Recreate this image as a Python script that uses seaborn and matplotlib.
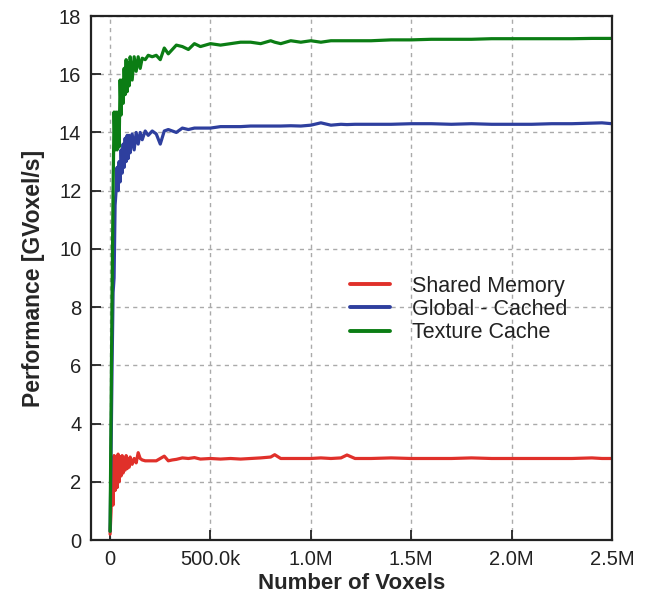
#!/usr/bin/env python3
"""Performance vs. number of voxels for three memory access strategies."""

import pandas as pd
import matplotlib
matplotlib.use("Agg")
import matplotlib.pyplot as plt
from matplotlib.ticker import FixedLocator, FixedFormatter
import seaborn as sns

# number of voxels, in thousands
voxels_k = [0, 5, 10, 15, 20, 25, 30, 35, 40, 45, 50, 55, 60, 65, 70, 75, 80, 85, 90, 95,
            100, 110, 120, 130, 140, 150, 160, 175, 190, 210, 230, 250, 270, 290, 310, 330,
            360, 390, 420, 450, 500, 550, 600, 650, 700, 750, 800, 820, 850, 900, 950,
            1000, 1050, 1100, 1150, 1180, 1220, 1300, 1400, 1500, 1600, 1700, 1800, 1900,
            2000, 2100, 2200, 2300, 2400, 2450, 2500]

shared_memory = [0.2, 1.0, 2.8, 1.2, 2.9, 1.7, 2.85, 1.8, 2.95, 2.0, 2.85, 2.2, 2.9, 2.3, 2.8,
                 2.4, 2.9, 2.45, 2.8, 2.5, 2.85, 2.6, 2.8, 2.65, 3.0, 2.8, 2.75, 2.72, 2.72,
                 2.72, 2.72, 2.8, 2.88, 2.72, 2.75, 2.77, 2.82, 2.8, 2.83, 2.78, 2.8, 2.78,
                 2.8, 2.78, 2.8, 2.82, 2.85, 2.93, 2.8, 2.8, 2.8, 2.8, 2.82, 2.8, 2.82, 2.92,
                 2.8, 2.8, 2.82, 2.8, 2.8, 2.8, 2.82, 2.8, 2.8, 2.8, 2.8, 2.8, 2.82, 2.8, 2.8]

global_cached = [0.3, 3.0, 6.0, 8.5, 9.0, 11.5, 12.0, 12.8, 12.0, 13.0, 12.3, 13.4, 12.6, 13.6,
                 12.8, 13.8, 13.0, 13.9, 13.1, 13.9, 13.3, 13.95, 13.4, 14.0, 13.6, 14.0,
                 13.75, 14.05, 13.9, 14.05, 13.95, 13.6, 14.05, 14.1, 14.05, 14.0, 14.15,
                 14.1, 14.15, 14.15, 14.15, 14.2, 14.2, 14.2, 14.22, 14.22, 14.22, 14.22,
                 14.22, 14.23, 14.22, 14.25, 14.33, 14.25, 14.28, 14.27, 14.28, 14.28, 14.28,
                 14.3, 14.3, 14.28, 14.3, 14.28, 14.28, 14.28, 14.3, 14.3, 14.32, 14.33, 14.3]

texture_cache = [0.3, 4.5, 8.5, 12.0, 14.7, 13.4, 14.7, 13.4, 14.7, 13.5, 15.8, 14.6, 15.8,
                 15.0, 16.2, 15.3, 16.5, 15.4, 16.4, 15.6, 16.6, 15.8, 16.6, 16.1, 16.6, 16.2,
                 16.55, 16.5, 16.65, 16.6, 16.65, 16.5, 16.9, 16.7, 16.85, 17.0, 16.95, 16.85,
                 17.05, 16.95, 17.05, 17.0, 17.05, 17.1, 17.1, 17.05, 17.15, 17.1, 17.05,
                 17.15, 17.1, 17.15, 17.1, 17.15, 17.15, 17.15, 17.15, 17.15, 17.18, 17.18,
                 17.2, 17.2, 17.2, 17.22, 17.22, 17.22, 17.22, 17.22, 17.23, 17.23, 17.23]

series_names = ["Shared Memory", "Global - Cached", "Texture Cache"]
series_colors = ["#e0302a", "#2e3f9e", "#0b7d14"]

x_ticks = [0, 500e3, 1.0e6, 1.5e6, 2.0e6, 2.5e6]
x_tick_labels = ["0", "500.0k", "1.0M", "1.5M", "2.0M", "2.5M"]
y_ticks = [0, 2, 4, 6, 8, 10, 12, 14, 16, 18]


def main():
    frames = []
    for name, values in zip(series_names, [shared_memory, global_cached, texture_cache]):
        frames.append(pd.DataFrame({
            "voxels": [v * 1000 for v in voxels_k],
            "perf": values,
            "kind": name,
        }))
    df = pd.concat(frames, ignore_index=True)

    sns.set_style("ticks")
    plt.rcParams["font.family"] = ["Liberation Sans", "DejaVu Sans"]

    fig, ax = plt.subplots(figsize=(6.46, 5.98), dpi=100)
    fig.subplots_adjust(left=91 / 646, right=612 / 646, top=1 - 16 / 598, bottom=1 - 540 / 598)

    sns.lineplot(data=df, x="voxels", y="perf", hue="kind", hue_order=series_names,
                 palette=series_colors, estimator=None, sort=False, linewidth=2.3, ax=ax)

    ax.set_xlim(-95e3, 2.5e6)
    ax.set_ylim(0, 18)
    ax.xaxis.set_major_locator(FixedLocator(x_ticks))
    ax.xaxis.set_major_formatter(FixedFormatter(x_tick_labels))
    ax.set_yticks(y_ticks)
    ax.tick_params(direction="in", length=7, width=1.3, labelsize=14.5, pad=7,
                   colors="#222222", top=False, right=False)
    for spine in ax.spines.values():
        spine.set_visible(True)
        spine.set_linewidth(1.6)
        spine.set_color("#222222")
    ax.grid(True, linestyle=(0, (3, 3)), color="#aaaaaa", linewidth=1.0)

    ax.set_xlabel("Number of Voxels", fontsize=16, fontweight="bold", labelpad=3)
    ax.set_ylabel("Performance [GVoxel/s]", fontsize=16.5, fontweight="bold", labelpad=10)

    leg = ax.legend(loc="center left", bbox_to_anchor=(0.476, 0.44), frameon=False,
                    fontsize=15.5, handlelength=1.85, handletextpad=1.05, labelspacing=0.1,
                    borderpad=0)
    for line in leg.get_lines():
        line.set_linewidth(2.8)
    for text in leg.get_texts():
        text.set_color("#222222")

    fig.savefig("out.png", dpi=100)


if __name__ == "__main__":
    main()
